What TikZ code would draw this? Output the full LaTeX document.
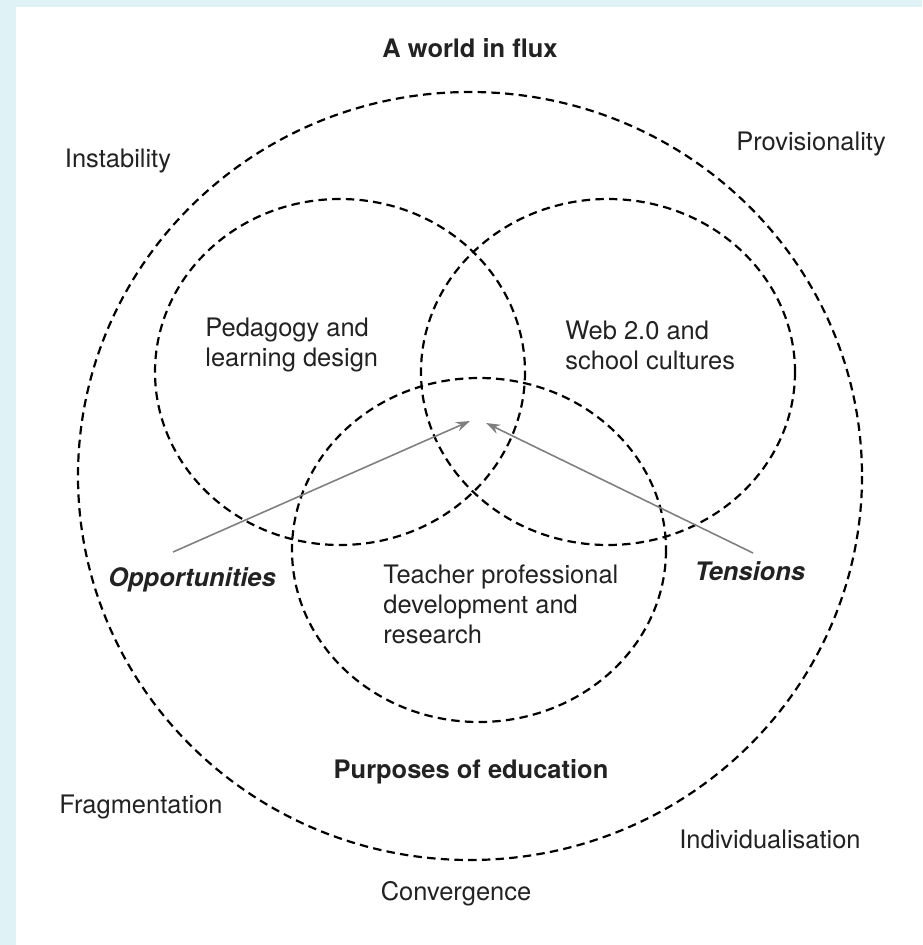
\documentclass[tikz,border=0pt]{standalone}
\usepackage{fontspec}
\setmainfont{TeX Gyre Heros}
\usetikzlibrary{arrows.meta}
\definecolor{frameblue}{HTML}{DFF3F7}
\definecolor{inkgrey}{HTML}{222222}
\definecolor{arrowgrey}{HTML}{7F7F7F}

\begin{document}
\begin{tikzpicture}[x=0.02cm,y=-0.02cm]
\tikzstyle{every node}+=[inner sep=0pt, text=inkgrey, font=\fontsize{14.5}{17}\selectfont]
\tikzstyle{ring}=[black, line width=1.25pt, dash pattern=on 4.8pt off 3pt]
\tikzstyle{pointer}=[arrowgrey, line width=0.9pt, -{Stealth[length=8pt,width=5.5pt]}]
\tikzstyle{heading}=[font=\fontsize{14.5}{17}\selectfont\bfseries]
\tikzstyle{cue}=[font=\fontsize{14.5}{17}\selectfont\bfseries\itshape]
\useasboundingbox (0,0) rectangle (922,945);
\fill [frameblue] (0,0) rectangle (16,945);
\fill [frameblue] (0,0) rectangle (922,7);
% circles
\draw [ring] (470,476) ellipse (392 and 384);
\draw [ring] (340,372) ellipse (185 and 173);
\draw [ring] (608,372) ellipse (187 and 173);
\draw [ring] (479,550) ellipse (187 and 172);
% labels round the outside
\node [heading, anchor=base] (flux) at (470,58) {A world in flux};
\node [anchor=base] (instab) at (118,168) {Instability};
\node [anchor=base] (provis) at (811,151) {Provisionality};
\node [anchor=base] (fragm) at (141,813) {Fragmentation};
\node [anchor=base] (indiv) at (770,848) {Individualisation};
\node [anchor=base] (conv) at (456,900) {Convergence};
% labels inside
\node [anchor=west, align=left] (pedag) at (205,345) {Pedagogy and\\learning design};
\node [anchor=west, align=left] (webcult) at (565,345) {Web 2.0 and\\school cultures};
\node [anchor=west, align=left] (teacher) at (383,604) {Teacher professional\\development and\\research};
\node [heading, anchor=base] (purpose) at (471,778) {Purposes of education};
\node [cue, anchor=base] (opport) at (192,586) {Opportunities};
\node [cue, anchor=base] (tension) at (750,580) {Tensions};
% arrows
\coordinate (oppfoot) at (173,552);
\coordinate (opptip) at (470,421);
\coordinate (tenfoot) at (753,553);
\coordinate (tentip) at (486,423);
\draw [pointer] (oppfoot) -- (opptip);
\draw [pointer] (tenfoot) -- (tentip);
\end{tikzpicture}
\end{document}
